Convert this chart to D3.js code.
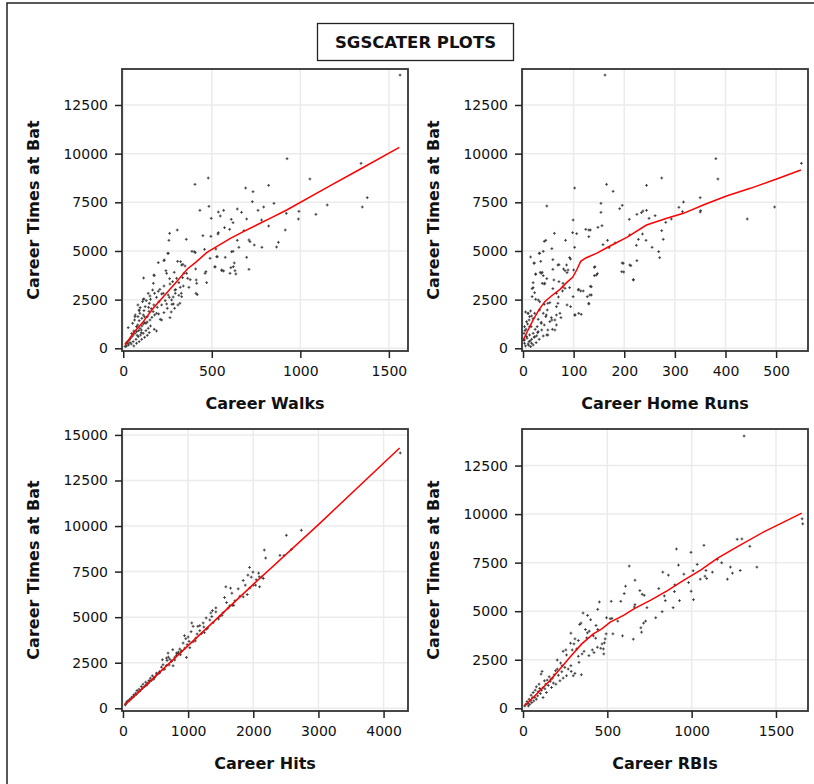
<!DOCTYPE html>
<html>
<head>
<meta charset="utf-8">
<script src="https://cdn.jsdelivr.net/npm/d3@7"></script>
<style>
  body { margin: 0; background: #fff; }
  svg { display: block; }
</style>
</head>
<body>
<svg></svg>
<script>
// [career walks, career times at bat]
const walks = [
  [1563,14038],[925,9741],[1343,9502],[480,8748],[1054,8697],[405,8423],[691,8235],[733,8046],[821,8372],[1378,7738],
  [729,7533],[484,7293],[793,7259],[851,7447],[1152,7362],[1350,7259],[433,7088],[537,7002],[567,7088],[644,7156],
  [668,6985],[761,7088],[992,7036],[548,6797],[921,6934],[1088,6882],[497,6677],[610,6626],[697,6643],[620,6454],
  [781,6591],[989,6643],[572,6197],[601,6112],[821,6283],[915,6077],[262,5906],[305,6077],[537,5940],[450,5787],
  [495,5752],[535,5872],[682,6043],[258,5547],[356,5598],[644,5547],[710,5564],[716,5478],[876,5444],[740,5307],
  [866,5204],[783,5187],[653,5187],[523,5102],[459,5085],[388,4982],[407,4913],[252,4879],[620,4982],[697,4674],
  [531,4708],[576,4674],[230,4502],[198,4400],[307,4468],[324,4451],[337,4314],[490,4622],[627,4383],[518,4177],
  [608,4143],[557,3989],[567,3972],[710,4057],[636,3818],[241,3989],[245,3852],[288,3903],[409,4075],[343,3852],
  [467,3938],[335,3629],[378,3527],[412,3510],[471,3373],[175,3732],[115,3612],[262,3578],[314,3373],[264,3304],
  [371,3133],[322,3133],[418,2756],[166,2996],[177,2825],[198,2928],[217,2791],[296,3013],[328,2825],[314,2722],
  [282,2636],[117,2534],[154,2517],[130,2448],[202,2397],[245,2277],[275,2260],[309,2226],[96,2089],[143,2106],
  [158,2037],[249,2054],[290,2054],[90,1935],[145,1900],[271,1866],[230,1832],[200,1763],[113,1712],[264,1575],
  [209,1489],[64,1455],[90,1421],[121,1318],[175,976],[188,890],[28,1061],[53,1284],[75,1113],[102,941],
  [15,257],[23,342],[34,428],[41,514],[49,599],[56,685],[66,770],[75,856],[87,907],[94,1027],
  [105,1147],[113,1250],[38,291],[56,342],[72,462],[85,599],[98,685],[113,770],[128,907],[141,1027],
  [154,1147],[30,171],[45,223],[60,120],[75,257],[90,342],[104,462],[121,565],[136,668],[147,805],
  [19,120],[11,86],[26,257],[79,668],[102,805],[128,1284],[151,1455],[162,1592],[177,1712],[188,1798],
  [136,1626],[105,1541],[83,1626],[68,1712],[94,1798],[117,1935],[169,1883],[124,2140],[83,2226],[147,2311],
  [173,2226],[109,2397],[192,2106],[217,2226],[237,2448],[260,2619],[226,2825],[188,2619],[151,2688],[207,3030],
  [230,3201],[279,3424],[301,3595],[294,2825],[273,2483],[232,4536],[170,3339],[173,3765],[141,2825],[113,2517],
  [90,1967],[66,1623],[217,1454],[283,2276],[320,2312],[330,2651],[254,2738],[339,3200],[292,2995],[364,3596],
  [358,3853],[415,3339],[411,2825],[462,3853],[518,4192],[556,4022],[622,4192],[612,4962],[528,4705],[603,3853],
  [631,3986],[401,4962],[254,4878],[330,4278],[349,4226],[60,890],[82,1200],[48,760],[120,1620],[135,1350]
];

// [career home runs, career times at bat]
const homeRuns = [
  [162,14038],[381,9741],[550,9502],[385,8697],[274,8748],[102,8235],[165,8423],[244,8372],[178,8064],[47,7310],
  [154,7447],[196,7345],[191,7173],[350,7738],[317,7516],[308,7242],[315,7019],[351,7071],[350,7002],[497,7259],
  [443,6643],[154,6985],[225,6882],[234,6968],[237,7053],[244,7088],[261,6814],[249,6677],[293,6643],[282,6472],
  [210,6626],[99,6591],[148,6215],[156,6300],[124,6112],[130,6077],[133,6077],[98,5940],[106,5889],[62,5906],
  [274,6043],[211,5821],[236,5872],[130,5735],[42,5495],[45,5547],[84,5547],[167,5547],[228,5598],[243,5547],
  [277,5598],[182,5410],[158,5324],[170,5170],[224,5290],[255,5187],[102,5187],[268,4965],[270,4657],[15,4691],
  [57,5119],[40,4982],[32,4879],[22,4383],[35,4468],[59,4554],[92,4657],[94,4588],[196,4383],[225,4503],
  [213,4246],[199,3921],[218,3527],[141,4160],[147,3835],[141,3732],[59,4057],[71,4297],[80,4075],[83,3989],
  [87,3886],[100,4023],[34,3903],[38,3903],[25,3801],[40,3732],[47,3578],[71,3424],[61,3510],[38,3338],
  [42,3304],[20,3116],[18,3064],[59,3064],[79,3150],[78,2945],[92,3116],[110,3030],[114,2945],[119,2945],
  [133,3184],[99,2654],[70,2636],[127,2654],[135,2739],[18,2654],[25,2517],[30,2483],[53,2345],[42,2260],
  [66,2140],[87,2226],[94,2140],[130,2277],[103,1712],[110,1798],[115,1746],[5,1866],[10,1798],[15,1917],
  [17,1661],[12,1455],[20,1524],[30,1489],[36,1335],[45,1626],[56,1575],[53,1370],[63,1455],[73,1798],
  [75,1575],[66,1198],[58,976],[47,685],[37,941],[29,805],[24,976],[16,1113],[9,1250],[3,1113],
  [2,770],[7,599],[12,342],[17,462],[22,565],[32,462],[40,633],[3,257],[5,120],[10,223],
  [15,86],[20,171],[26,291],[1,428],[4,907],[13,685],[20,770],[28,1113],[42,1198],[49,941],
  [13,1626],[23,1798],[33,1969],[40,1798],[48,1969],[22,4366],[33,4880],[25,3817],[36,3853],[43,3339],
  [20,3370],[23,2856],[33,2394],[49,2312],[66,2825],[83,3082],[79,3339],[89,4022],[86,4279],[69,4279],
  [69,2312],[57,1454],[63,940],[49,683],[10,1798],[7,1366],[13,1110],[30,853],[36,1284],[46,1711],
  [66,1711],[102,1711],[109,2995],[132,2738],[130,2312],[142,4192],[145,3765],[135,3164],[198,4366],[211,4279],
  [218,3509],[195,3935],[23,596],[3,426],[17,257],[8,520],[14,380],[27,640],[6,980],[11,160]
];

// [career hits, career times at bat]
const hits = [
  [4256,14009],[2738,9768],[2508,9492],[2585,8721],[2169,8684],[2190,8244],[2410,8391],[2472,8391],[1943,7730],[1995,7472],
  [1918,7307],[1969,7197],[2082,7417],[2092,7215],[2154,7124],[2046,7050],[2036,6756],[2097,6665],[1846,7013],[1877,6756],
  [1769,6555],[1846,6114],[1908,6242],[1579,6665],[1651,6591],[1672,6316],[1559,6077],[1590,5802],[1641,5636],[1682,5655],
  [1426,5508],[1374,5361],[1426,5288],[1467,4902],[1349,5233],[1364,5031],[1277,4957],[1333,4847],[1231,4682],[1179,4535],
  [1149,4498],[1241,4461],[1056,4682],[1077,4498],[1046,4204],[1179,4259],[1138,4076],[944,3984],[1000,3911],[964,3819],
  [1015,3672],[985,3488],[1026,3323],[923,3580],[872,3250],[974,2791],[851,3084],[882,2938],[821,3029],[764,3213],
  [697,2809],[718,2699],[677,2625],[769,2332],[744,2570],[615,2387],[641,2148],[590,2258],[564,2020],[513,1928],
  [451,1781],[420,1652],[472,1597],[400,1524],[349,1432],[308,1322],[369,1285],[282,1193],[246,1047],[215,973],
  [195,826],[164,734],[133,606],[103,496],[77,404],[51,275],[36,184],[615,2120],[538,1900],[487,1700],
  [436,1520],[385,1380],[333,1190],[297,1080],[267,960],[236,880],[205,760],[174,680],[154,600],[123,500],
  [92,400],[62,367],[41,239],[821,2900],[795,2800],[846,3000],[897,3150],[949,3300],[1077,3650],[1118,3850],
  [1205,4100],[1282,4350],[1385,4700],[1487,5050],[1538,5250],[1615,5500],[1718,5900],[1795,6150],[1949,6600],[2000,6750],
  [2128,7200],[667,2350],[564,1950],[513,1820],[400,1420],[359,1280],[667,2754],[744,2600],[795,2650],[897,3121],
  [692,3029],[605,2662],[708,2380],[1110,3700],[1250,4150],[1300,4400],[1520,5100],[1700,5650],[560,1950],[480,1700]
];

// [career RBIs, career times at bat]
const rbis = [
  [1311,14023],[1655,9758],[1659,9499],[1270,8704],[1298,8721],[1073,8393],[910,8203],[996,8031],[1345,8341],[922,7374],
  [1230,7271],[1288,7098],[1387,7271],[1033,7409],[1178,7495],[1152,7668],[1085,7098],[1123,7012],[1079,6804],[1051,6649],
  [1089,6684],[1242,6960],[1212,6649],[829,7012],[862,6856],[954,6908],[1009,7081],[982,6476],[900,6355],[997,6027],
  [1011,5595],[630,7323],[664,6597],[693,6062],[707,5872],[719,5820],[805,6165],[838,5786],[844,5544],[928,5544],
  [898,6010],[608,6286],[600,5906],[735,5181],[664,5336],[660,5216],[825,4974],[890,5181],[787,4663],[453,5475],
  [523,5509],[580,5509],[443,5095],[495,4663],[517,4611],[527,4628],[562,4490],[727,4490],[715,4387],[703,3920],
  [699,4145],[654,3558],[590,3730],[533,3834],[493,3834],[469,3316],[483,3368],[487,3575],[477,3057],[479,2798],
  [356,4905],[383,4784],[344,4387],[336,4318],[401,4559],[433,4266],[443,4058],[370,4058],[382,3886],[393,3972],
  [378,3627],[417,3730],[431,3609],[461,3091],[441,3143],[421,2867],[411,3005],[391,2711],[362,2936],[350,2798],
  [328,2677],[284,3868],[308,3575],[282,3350],[302,3316],[328,3488],[254,3005],[238,2936],[258,2746],[318,3057],
  [292,3005],[332,2366],[346,1727],[284,2193],[268,2021],[286,1900],[308,1796],[298,1675],[203,2487],[223,2331],
  [203,2021],[232,2193],[248,2107],[258,1675],[193,1934],[185,1727],[175,1554],[143,1451],[161,1382],[155,1623],
  [127,1416],[113,1900],[107,1762],[135,1243],[119,1071],[95,1243],[79,1105],[72,933],[60,812],[103,760],
  [87,639],[48,674],[36,466],[24,345],[16,207],[10,121],[40,207],[64,380],[119,553],[139,812],
  [169,1071],[52,294],[32,121],[79,466],[99,1019],[195,1243],[219,1416],[238,1554],[70,560],[110,930],
  [150,1180],[90,860],[56,540],[44,400],[28,250],[130,1000],[180,1300],[210,1700],[230,1880],[165,1500]
];

// loess fit lines
const walksFit = [[9,137],[56,770],[113,1370],[169,2054],[235,2739],[301,3424],[362,4075],[414,4451],[471,4913],[527,5222],
  [603,5632],[678,5992],[753,6334],[829,6677],[923,7105],[1149,8250],[1337,9200],[1559,10323]];
const homeRunsFit = [[1,462],[10,941],[20,1455],[32,2003],[43,2397],[56,2688],[73,3030],[86,3373],[98,3646],[106,4023],
  [114,4468],[124,4640],[145,4879],[172,5256],[205,5701],[244,6334],[284,6677],[317,6934],[356,7362],[402,7824],
  [449,8218],[501,8697],[549,9159]];
const hitsFit = [[26,184],[1000,3440],[2000,6800],[3000,10080],[4246,14280]];
const rbisFit = [[10,121],[79,725],[159,1416],[219,2021],[278,2625],[348,3316],[417,3834],[467,4093],[517,4438],[596,4784],
  [660,5129],[755,5561],[854,6045],[954,6597],[1053,7115],[1152,7720],[1272,8324],[1431,9101],[1653,10051]];

const walksTicks = [0, 500, 1000, 1500];
const homeRunsTicks = [0, 100, 200, 300, 400, 500];
const hitsTicks = [0, 1000, 2000, 3000, 4000];
const rbisTicks = [0, 500, 1000, 1500];
const atBatTicks = [0, 2500, 5000, 7500, 10000, 12500];
const atBatTicksHits = [0, 2500, 5000, 7500, 10000, 12500, 15000];

const pw = 286, ph = 282;
const font = '"DejaVu Sans", sans-serif';

const panels = [
  { pts: walks, fit: walksFit, xTicks: walksTicks, yTicks: atBatTicks, xLabel: 'Career Walks',
    xDomain: [-7, 1608], yDomain: [-139, 14349], left: 122, top: 69 },
  { pts: homeRuns, fit: homeRunsFit, xTicks: homeRunsTicks, yTicks: atBatTicks, xLabel: 'Career Home Runs',
    xDomain: [-2, 563], yDomain: [-139, 14349], left: 522, top: 69 },
  { pts: hits, fit: hitsFit, xTicks: hitsTicks, yTicks: atBatTicksHits, xLabel: 'Career Hits',
    xDomain: [-15, 4375], yDomain: [-149, 15325], left: 122, top: 429 },
  { pts: rbis, fit: rbisFit, xTicks: rbisTicks, yTicks: atBatTicks, xLabel: 'Career RBIs',
    xDomain: [-6, 1690], yDomain: [-140, 14383], left: 522, top: 429 }
];

const svg = d3.select('svg')
  .attr('width', 814)
  .attr('height', 784);

// outer border (cut off at right and bottom)
svg.append('rect')
  .attr('x', 7).attr('y', 3)
  .attr('width', 830).attr('height', 820)
  .attr('fill', 'none')
  .attr('stroke', '#222')
  .attr('stroke-width', 1.5);

// title box
svg.append('rect')
  .attr('x', 317.5).attr('y', 23.5)
  .attr('width', 196).attr('height', 37)
  .attr('fill', '#fff')
  .attr('stroke', '#222')
  .attr('stroke-width', 1.3);

svg.append('text')
  .attr('x', 415.5).attr('y', 48)
  .attr('text-anchor', 'middle')
  .attr('font-family', font)
  .attr('font-weight', 'bold')
  .attr('font-size', '16.5px')
  .attr('fill', '#111')
  .text('SGSCATER PLOTS');

panels.forEach(p => {
  const g = svg.append('g').attr('transform', `translate(${p.left}, ${p.top})`);
  const x = d3.scaleLinear().domain(p.xDomain).range([0, pw]);
  const y = d3.scaleLinear().domain(p.yDomain).range([ph, 0]);

  g.append('rect')
    .attr('width', pw).attr('height', ph)
    .attr('fill', '#fff');

  // grid
  g.selectAll('.gx')
    .data(p.xTicks)
    .enter().append('line')
    .attr('x1', d => x(d)).attr('x2', d => x(d))
    .attr('y1', 0).attr('y2', ph)
    .attr('stroke', '#ebebeb')
    .attr('stroke-width', 1.5);

  g.selectAll('.gy')
    .data(p.yTicks)
    .enter().append('line')
    .attr('x1', 0).attr('x2', pw)
    .attr('y1', d => y(d)).attr('y2', d => y(d))
    .attr('stroke', '#ebebeb')
    .attr('stroke-width', 1.5);

  // markers
  g.selectAll('.pt')
    .data(p.pts)
    .enter().append('path')
    .attr('transform', d => `translate(${x(d[0])}, ${y(d[1])})`)
    .attr('d', 'M-1.4,0H1.4M0,-1.4V1.4')
    .attr('stroke', '#333')
    .attr('stroke-width', 0.9);

  const line = d3.line()
    .x(d => x(d[0]))
    .y(d => y(d[1]));

  g.append('path')
    .datum(p.fit)
    .attr('fill', 'none')
    .attr('stroke', '#ff0000')
    .attr('stroke-width', 1.5)
    .attr('d', line);

  // frame
  g.append('rect')
    .attr('width', pw).attr('height', ph)
    .attr('fill', 'none')
    .attr('stroke', '#333')
    .attr('stroke-width', 1.8);

  const xAxis = g.append('g')
    .attr('transform', `translate(0, ${ph})`)
    .call(d3.axisBottom(x).tickValues(p.xTicks).tickSize(7).tickPadding(8).tickFormat(d3.format('d')));

  const yAxis = g.append('g')
    .call(d3.axisLeft(y).tickValues(p.yTicks).tickSize(7).tickPadding(7).tickFormat(d3.format('d')));

  [xAxis, yAxis].forEach(a => {
    a.select('.domain').remove();
    a.selectAll('line').attr('stroke', '#222').attr('stroke-width', 1.5);
    a.selectAll('text')
      .attr('font-family', font)
      .attr('font-size', '14px')
      .attr('fill', '#111');
  });

  g.append('text')
    .attr('x', pw / 2)
    .attr('y', ph + 58)
    .attr('text-anchor', 'middle')
    .attr('font-family', font)
    .attr('font-weight', 'bold')
    .attr('font-size', '16px')
    .attr('fill', '#111')
    .text(p.xLabel);

  g.append('text')
    .attr('transform', `translate(-83, ${ph / 2}) rotate(-90)`)
    .attr('text-anchor', 'middle')
    .attr('font-family', font)
    .attr('font-weight', 'bold')
    .attr('font-size', '16px')
    .attr('fill', '#111')
    .text('Career Times at Bat');
});
</script>
</body>
</html>
